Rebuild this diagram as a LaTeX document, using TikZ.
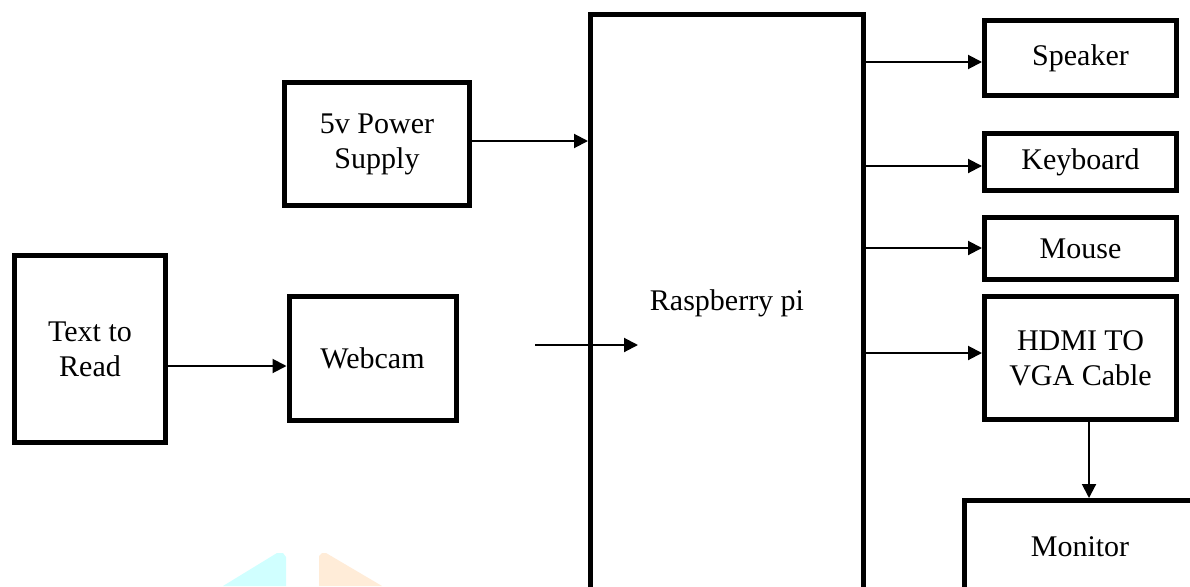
\documentclass[tikz,border=0pt]{standalone}
\usepackage{fontspec}
\setmainfont{Liberation Serif}
\usetikzlibrary{arrows.meta}
\definecolor{wmcyan}{RGB}{208,255,255}
\definecolor{wmorange}{RGB}{255,236,216}
\begin{document}
\begin{tikzpicture}[x=1pt,y=-1pt,
  blk/.style={draw=black,line width=5pt,rectangle,inner sep=0pt,align=center,
    font=\fontsize{30}{35}\selectfont},
  arr/.style={draw=black,line width=2pt,-{Triangle[length=14pt,width=14pt]}}]
\useasboundingbox (0,0) rectangle (1190,586);
\clip (0,0) rectangle (1190,586);
\fill[white] (0,0) rectangle (1190,586);
% watermark shapes
\fill[wmcyan] (223,586) -- (277,553) -- (283,553) -- (286,557) -- (286,586) -- cycle;
\fill[wmorange] (319,586) -- (319,556) -- (322,553) -- (326,553) -- (382,586) -- cycle;
% blocks
\node[blk,minimum width=151pt,minimum height=187pt] (text) at (90,349) {Text to\\Read};
\node[blk,minimum width=167pt,minimum height=124pt] (webcam) at (372.5,358) {Webcam};
\node[blk,minimum width=185pt,minimum height=123pt] (power) at (377,144) {5v Power\\Supply};
\node[blk,minimum width=273pt,minimum height=577pt] (pi) at (727,303) {Raspberry pi};
\node[blk,minimum width=192pt,minimum height=75pt] (speaker) at (1080.5,58) {\raisebox{-4pt}{Speaker}};
\node[blk,minimum width=192pt,minimum height=57pt] (keyboard) at (1080.5,162) {\raisebox{-3pt}{Keyboard}};
\node[blk,minimum width=192pt,minimum height=62pt] (mouse) at (1080.5,248.5) {Mouse};
\node[blk,minimum width=192pt,minimum height=123pt] (hdmi) at (1080.5,358) {HDMI TO\\VGA Cable};
\node[blk,minimum width=231pt,minimum height=93pt] (monitor) at (1080,547) {Monitor};
% rows for connectors
\coordinate (r1) at (0,366);
\coordinate (r2) at (0,141);
\coordinate (rs) at (0,62);
\coordinate (rk) at (0,166);
\coordinate (rm) at (0,248);
\coordinate (rh) at (0,353);
\coordinate (cm) at (1089,0);
\coordinate (fa) at (535,345);
\coordinate (fb) at (638,345);
% connectors
\draw[arr] (text.east |- r1) -- (webcam.west |- r1);
\draw[arr] (power.east |- r2) -- (pi.west |- r2);
\draw[arr] (fa) -- (fb);
\draw[arr] (pi.east |- rs) -- (speaker.west |- rs);
\draw[arr] (pi.east |- rk) -- (keyboard.west |- rk);
\draw[arr] (pi.east |- rm) -- (mouse.west |- rm);
\draw[arr] (pi.east |- rh) -- (hdmi.west |- rh);
\draw[arr] (hdmi.south -| cm) -- (monitor.north -| cm);
\end{tikzpicture}
\end{document}
